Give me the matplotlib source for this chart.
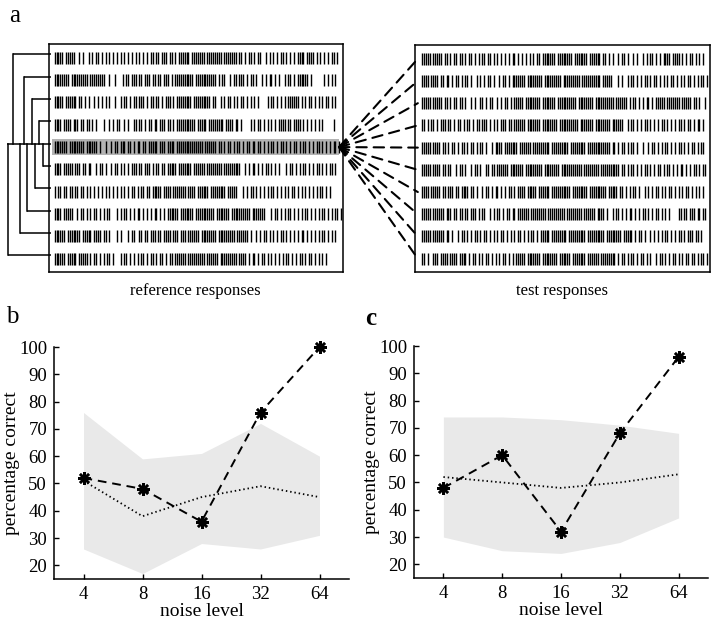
import numpy as np
import matplotlib
matplotlib.use('Agg')
import matplotlib.pyplot as plt
from matplotlib.patches import ConnectionPatch

plt.rcParams['font.family'] = ['Liberation Serif', 'DejaVu Serif']

# ---------------- data ----------------
# spike rasters: one character per time bin, '|' = spike, '.' = no spike
reference_rows = [
    ("|||||.|||||" ".." "|.|..|.|.||.|.|.|.|.|.|.|.|.|.|.|.|.|." "||.||.|||.||.|.||"
     "||||.|||||||.||||||||.||||||" "|.||.|.||.|.||." ".|." "|.|.|.||.|.|.|.||||.||||.|.|.|.|.||.|"),
    ("||||||||.|||||||||.||||||||" "..|..|..." "|.||.|||.||.|||.||.||.|||.|.||" "||||||||.||||||||||"
     "|.|.||..|.||.|" "||.|.||.|..|.|.||.|.|..|.||.|.|" "|||||.|" "......" "|.|.|.|"),
    ("|||||.||||||.|" "|.|.|..|.|.|.|.|..|" "..|.||.|.||.|||.|.||.||.|.|||.|.|" "|||||||.|||||||||.||"
     ".." "|.|.||.|.|.||.|.|.|.|." "..." "|.||.|.|.|.||||||.|.|.||.|.|.|.||.|.|."),
    ("||||.||||.||" "|.||.||.|.|" "..." "|..|.|.||..|.|..|" "|.||.|.||.||.|||.||.|.||||"
     "||||||.|||||.||||||||.||||.|" "|.|" "...." "|.|.||.|.|.|.|.||||.||.||||.|.|.|.|.|.|..." "..|."),
    ("|||||||.||||||||.||||||" ".|..|.." "|.||.|||.||.|.||.||.||" "|||.|||.||||.||||||"
     "||||||||.|||||" "|.||.|.||.|.||.|.||.|" "|.||.|.|.||.|.||.|.|." "||.|.||.|.|.||.|.|.|.||.|"),
    ("||||.|||||.||" "|.||.||" ".." "|.||.|..|.||.|.|.|.||" "|.||.|||.|.||.||.|"
     "||||.|||||||.||||||.||||||||.||||||||" "|.." "|.|.||.|.|.||.|.|.|" "..." "|.||.|.|.||.|.|.||.|.|.||.|"),
    ("|.||.||.||.||.||.|" ".|.|.|.|.|.|.|.|.|.|.|.|" "|.|.||.||." "|||||.||||.|||||||.||||.||||||.||||||||.|||||"
     "..." "|.|.||.|.|.|.|.||.|.|.|.|.||.|.|.|.|.|.|.||.|.|"),
    ("||||.|||||" ".." "|.||.|.|.||.|.|.||" "..." "|.|.||.|.|.||.|.|.|.||.|.|.|"
     "|||||.|||||||.||||||||||.|||||||.||||||||||.|||||||" "..." "|.||.|.|.||.|.|.|.||.|.|.|.||.|.|.||.|"),
    ("||||||.|||||||.|||||.|||" "|.||.|" "..." "|.|" "..." "|.||" ".."
     "||.||.|||.||.||||.|||.|||.||||||.||||||||.|||||||||.||||||.|" ".." "|.|.||.|.|.|.||.|.|.|.|.||.|.|.|.|.||.|.|.|"),
    ("||||||.|||||.||||" "|.|.||.|.|.||.|" "..." "|.||.|.|.|.||.|.||.|.||.|.||.||"
     "||||.|||||||||.||||||.|||||||||.|||" "|.|.||.|.||.|.|.|.|.|.||.|.|.||.|.||.|.|.|.|"),
]
test_rows = [
    ("|||||.||||" "|.||.|.||.||.|.||.|.|.||.|" "|.|.|.|.|.|.||.|.|.|.|.|.||.|" "||||||.||||||||.|||||||.|||||"
     "|.||.|.|" ".." "|.||.|" ".." "|.|" "..|.|.||.|.|.||||.||||.|.|.||.|.|.|."),
    ("||||.||||.|" "|.||.|.||.|.||.|" ".." "|.|.|" "." "||.|" ".." "|.||.|.||"
     "|||||.||||||||.|||||||||.|||||||||.||||||||||.|||||" "..." "|.|" ".." "|.||.|.|.||.|.||.|.|.|.||.|.|.|.||.|.|.||.|"),
    ("|||||.||||" "|.||.|.||.||.|" ".." "|.|" ".." "||.|.||" ".." "|.|.||.|.|"
     "||||.||||||||.|||||||.||||||||||.||||||||.||||||||||.||||||" "." "|.||.|.|.||.|.|" "||||.|||||||.||||"
     "|.||.|" ".." "|"),
    ("||.|.||.|.|||.||.|.||.|.||.|.||.||" "|.|.|.|" ".|||.||.||||||.|||||||.||||||||.||||||||||.|||||||.||||||||.||||||"
     ".." "|.||.|.|.||.|.|.|.||.|.|.|.||.|.||.|.||.|"),
    ("|||||.|||" "|.||.|.||.|.||.|.||.|.||.|" ".." "|." "||||.|||||||.||||||.|||||||||.|||||||||.||||||||.|||||||||||"
     "|.||.|.||.|.||.|" ".." "|." ".|.||.|.|.||.|.|.||.|.|.||.|.||"),
    ("|||||.|||" "|.||.||" ".." "|.||.|" ".." "|.||.|" ".." "||.||.|"
     "|||||.|||||||.|||||||||.||||||||.|||||||||||.||||||||.|||||||||" "|.||.|.||.|.|.||.|.|.||.|.||.|.|.||.|.|.||.|.||"),
    ("||||.|||||.||.|||.||.|||" "|.||.|" ".." "|.||.|.||.|.|.||.|.||"
     "||.|||||.||||||.||||||||||.||||||||.|||||||||.||||" "|.||.|.|.||.|" ".." "|.|.|.||.|.|.||.|.|.|.||.|.|.|.|"),
    ("|||||.||||||.|||.||.||.||.||" "|.|.||" ".." "|.|.||.|.||.||.|" "|||||.||||||||.|||||||||.||||||||.|||||"
     "|.||||.|" ".." "|.||.|.|.||.|.|.||.|.|.||.|.|.|" "...." "||.||.|||.||.||"),
    ("|||||.|||||" "|.||.|" ".." "|.||.|.|.||.|.||.|.|.|.||.|.|.|.||.|.|.||.|.|"
     "||||.||||||||.|||||||||.|||||||||.||||||||.||||" "|.|.||.|" ".." "|.|.|." "|.||.|.|.||.|.|||.||.|"),
    ("||.|" ".." "|||.||||.||||.|||" "|.|.||" "." "|.|.||.|.|.|.||.|.|.|"
     "||||.|||||||.||||||||.||||||.|||||||.||||||.|||||||" "|.|.||.|.||.|.||.|.|" ".." "|.||.|.|.||.|" "."
     "|.||.||.|.||.|"),
]
highlight_row = 5                                   # reference response being classified
dendro_dist = [36, 25, 17, 10, 42, 6, 14, 22, 29, 41]  # linkage distance of each reference row

noise_levels = ['4', '8', '16', '32', '64']
b_match = [52, 48, 36, 76, 100]
b_chance = [51, 38, 45, 49, 45]
b_upper = [76, 59, 61, 72, 60]
b_lower = [26, 17, 28, 26, 31]
c_match = [48, 60, 32, 68, 96]
c_chance = [52, 50, 48, 50, 53]
c_upper = [74, 74, 73, 71, 68]
c_lower = [30, 25, 24, 28, 37]

# ---------------- figure ----------------
W, H = 711, 622
fig = plt.figure(figsize=(W / 100, H / 100), dpi=100)


def px_axes(x0, y0, x1, y1, **kw):
    return fig.add_axes([x0 / W, 1 - y1 / H, (x1 - x0) / W, (y1 - y0) / H], **kw)


def raster(ax, rows, xlim):
    for r, s in enumerate(rows, start=1):
        t = np.array([i for i, ch in enumerate(s) if ch == '|'])
        ax.vlines(t, r - 0.27, r + 0.27, color='black', lw=1.0)
    ax.set_xlim(*xlim)
    ax.set_ylim(10.6, 0.38)
    ax.set_xticks([])
    ax.set_yticks([])
    for sp in ax.spines.values():
        sp.set_linewidth(1.1)


ax_ref = px_axes(49, 44, 343, 272)
ax_ref.fill_between([-1.2, 150.8], highlight_row - 0.34, highlight_row + 0.34,
                    color='#b3b3b3', lw=0, zorder=0)
raster(ax_ref, reference_rows, (-3, 153))

ax_test = px_axes(415, 45, 710, 272)
raster(ax_test, test_rows, (-3.7, 152.6))

# dendrogram
ax_d = px_axes(0, 44, 49, 272, sharey=ax_ref)
ax_d.set_xlim(49, 0)
ax_d.axis('off')
off = -0.15
yc = highlight_row + off
for r, d in enumerate(dendro_dist, start=1):
    y = r + off
    if r == highlight_row:
        ax_d.plot([d, -2], [y, y], color='black', lw=1.1, clip_on=False, solid_capstyle='butt')
    else:
        ax_d.plot([d, d], [y, yc], color='black', lw=1.1, clip_on=False)
        ax_d.plot([d, -2], [y, y], color='black', lw=1.1, clip_on=False, solid_capstyle='butt')

# fan of dashed lines from the reference response to every test response
for r in range(1, len(test_rows) + 1):
    con = ConnectionPatch(xyA=(150.9, highlight_row), coordsA='data', axesA=ax_ref,
                          xyB=(-2.2, r), coordsB='data', axesB=ax_test,
                          color='black', lw=1.5, linestyle=(0, (5, 3.3)))
    fig.add_artist(con)

fig.text(195 / W, 1 - 291 / H, 'reference responses', ha='center', va='center', fontsize=12)
fig.text(562 / W, 1 - 291 / H, 'test responses', ha='center', va='center', fontsize=12)


def perf_panel(ax, match, chance, upper, lower):
    x = np.arange(1, len(noise_levels) + 1)
    ax.fill_between(x, lower, upper, color='#e9e9e9', lw=0, zorder=0)
    ax.plot(x, chance, color='black', lw=1.3, linestyle=(0, (0.8, 1.6)), clip_on=False)
    ax.plot(x, match, color='black', lw=1.4, linestyle=(0, (4.5, 3)),
            marker=(8, 2, 0), markersize=9, markeredgewidth=1.8, clip_on=False)
    ax.set_xlim(0.5, 5.5)
    ax.set_ylim(15, 100)
    ax.set_xticks(x)
    ax.set_xticklabels(noise_levels)
    ax.set_yticks(np.arange(20, 101, 10))
    ax.spines['top'].set_visible(False)
    ax.spines['right'].set_visible(False)
    for s in ('left', 'bottom'):
        ax.spines[s].set_linewidth(1.1)
    ax.tick_params(direction='in', length=3.5, width=1.0, labelsize=13.5, pad=5, colors='black')
    ax.set_xlabel('noise level', fontsize=14, labelpad=0)
    ax.set_ylabel('percentage correct', fontsize=14, labelpad=-1)


ax_b = px_axes(54, 347, 349, 579)
perf_panel(ax_b, b_match, b_chance, b_upper, b_lower)
ax_c = px_axes(414, 346, 708, 578)
perf_panel(ax_c, c_match, c_chance, c_upper, c_lower)

fig.text(9 / W, 1 - 22 / H, 'a', fontsize=18, va='baseline', ha='left')
fig.text(6 / W, 1 - 323 / H, 'b', fontsize=18, va='baseline', ha='left')
fig.text(365 / W, 1 - 325 / H, 'c', fontsize=18, va='baseline', ha='left', fontweight='bold')

fig.savefig('out.png', dpi=100)
